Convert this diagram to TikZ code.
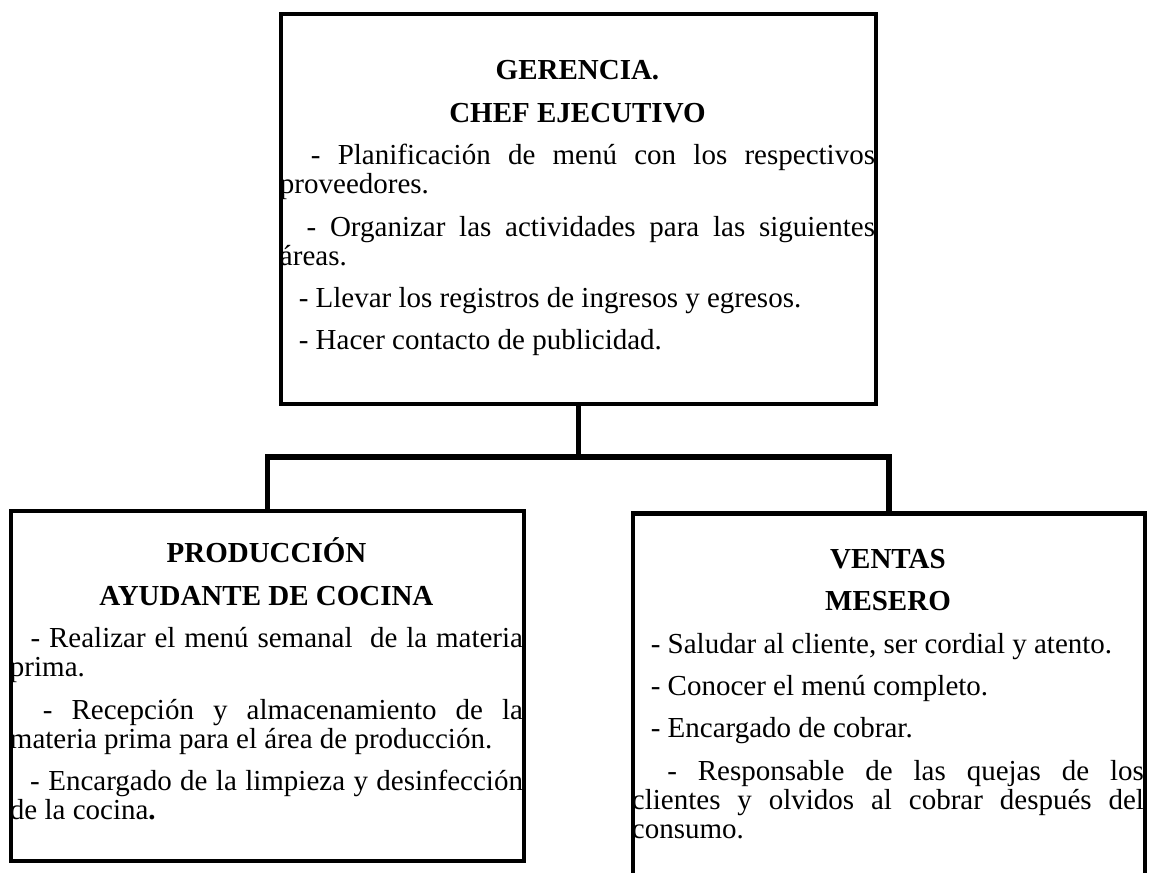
\documentclass[tikz,border=0pt]{standalone}
\usepackage{fontspec}
\setmainfont{Liberation Serif}[BoldFont={Liberation Serif Bold}]
\usetikzlibrary{positioning, calc}
\newcommand{\guion}{\hspace*{0.65em plus 0.15em}-\ }
\newcommand{\inicio}{\rule{0pt}{1em}}

\begin{document}
\begin{tikzpicture}[
    caja/.style={draw, line width=2.7pt, inner sep=0pt},
    texto/.style={anchor=north west, inner sep=0pt, text width=#1, align=justify,
      font=\fontsize{16.5}{16.5}\selectfont,
      execute at begin node={\setlength{\parskip}{7.6pt}\setlength{\parindent}{0pt}%
        \tolerance=10000 \hyphenpenalty=10000 }},
    linea/.style={line width=3pt}]
        \useasboundingbox (0,0) rectangle (23.08,-17.46);
        \clip (0,0) rectangle (23.08,-17.46);
        % Cajas
        \node[caja, minimum width=11.9cm, minimum height=7.8cm] (gerencia) at (11.57,-4.18) {};
        \node[caja, minimum width=10.26cm, minimum height=7.0cm] (produccion) at (5.35,-13.72) {};
        \node[caja, anchor=north, minimum width=10.24cm, minimum height=7.8cm] (ventas) at (17.78,-10.22) {};
        \coordinate (barra) at (11.57,-9.14);
        % Textos
        \node[texto=11.9cm, below right=0.78cm and 0.02cm of gerencia.north west] (gerenciaTxt)
          {{\centering\bfseries\inicio GERENCIA.\par CHEF EJECUTIVO\par}
           \guion Planificación de menú con los respectivos\linebreak proveedores.\par
           \guion Organizar las actividades para las siguientes\linebreak áreas.\par
           \guion Llevar los registros de ingresos y egresos.\par
           \guion Hacer contacto de publicidad.};
        \node[texto=10.26cm, below right=0.5cm and 0.02cm of produccion.north west] (produccionTxt)
          {{\centering\bfseries\inicio PRODUCCIÓN\par AYUDANTE DE COCINA\par}
           \guion Realizar el menú semanal\ \ de la materia\linebreak prima.\par
           \guion Recepción y almacenamiento de la\linebreak materia prima para el área de producción.\par
           \guion Encargado de la limpieza y desinfección\linebreak de la cocina\textbf{.}};
        \node[texto=10.24cm, below right=0.56cm and 0.02cm of ventas.north west] (ventasTxt)
          {{\centering\bfseries\inicio VENTAS\par MESERO\par}
           \guion Saludar al cliente, ser cordial y atento.\par
           \guion Conocer el menú completo.\par
           \guion Encargado de cobrar.\par
           \guion Responsable de las quejas de los\linebreak clientes y olvidos al cobrar después del\linebreak consumo.};
        % Conectores
        \draw[linea] (gerencia.south) -- (barra);
        \draw[linea] (produccion.north) -- (produccion.north |- barra)
          -- (ventas.north |- barra) -- (ventas.north);
      \end{tikzpicture}
\end{document}
